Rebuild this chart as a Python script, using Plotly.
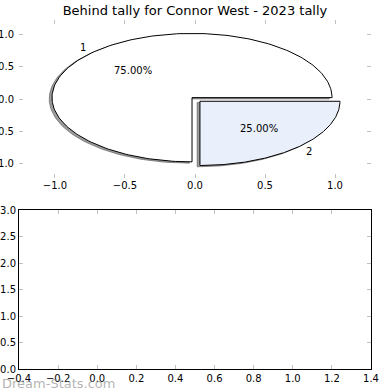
import numpy as np
import plotly.graph_objects as go

# ---- data ----
labels = ["1", "2"]
values = [75, 25]
explode = [0.03, 0.05]
slice_colors = ["#ffffff", "#e9effb"]
title_text = "Behind tally for Connor West - 2023 tally"
top_ticks = [-1.0, -0.5, 0.0, 0.5, 1.0]
bottom_xticks = [-0.4, -0.2, 0.0, 0.2, 0.4, 0.6, 0.8, 1.0, 1.2, 1.4]
bottom_yticks = [0.0, 0.5, 1.0, 1.5, 2.0, 2.5, 3.0]

W = H = 390
def xd(px0, px1):
    return [px0 / W, px1 / W]
def yd(py0, py1):
    return [1 - py1 / H, 1 - py0 / H]

fig = go.Figure()

total = float(sum(values))
wedges = []
theta = 0.0
for lab, v, ex, col in zip(labels, values, explode, slice_colors):
    frac = v / total
    t1, t2 = theta, theta + 360.0 * frac
    mid = np.deg2rad((t1 + t2) / 2)
    cx, cy = ex * np.cos(mid), ex * np.sin(mid)
    ang = np.deg2rad(np.linspace(t1, t2, 200))
    px = np.concatenate([[cx], cx + np.cos(ang), [cx]])
    py = np.concatenate([[cy], cy + np.sin(ang), [cy]])
    wedges.append((lab, frac, cx, cy, mid, px, py, col))
    theta = t2

# shadows first
for lab, frac, cx, cy, mid, px, py, col in wedges:
    fig.add_trace(go.Scatter(x=px - 0.02, y=py - 0.02, mode="lines", fill="toself",
                             fillcolor="rgba(77,77,77,0.55)", line=dict(color="rgba(77,77,77,0.55)", width=1),
                             hoverinfo="skip", showlegend=False, xaxis="x", yaxis="y"))
for lab, frac, cx, cy, mid, px, py, col in wedges:
    fig.add_trace(go.Scatter(x=px, y=py, mode="lines", fill="toself", fillcolor=col,
                             line=dict(color="black", width=1),
                             hoverinfo="skip", showlegend=False, xaxis="x", yaxis="y"))
    fig.add_annotation(x=cx + 1.1 * np.cos(mid), y=cy + 1.1 * np.sin(mid), text=lab,
                       showarrow=False, xref="x", yref="y",
                       font=dict(family="DejaVu Sans", size=10, color="black"))
    fig.add_annotation(x=cx + 0.6 * np.cos(mid), y=cy + 0.6 * np.sin(mid),
                       text="%.2f%%" % (frac * 100), showarrow=False, xref="x", yref="y",
                       font=dict(family="DejaVu Sans", size=10, color="black"))

# invisible trace for bottom axes
fig.add_trace(go.Scatter(x=[None], y=[None], mode="markers", showlegend=False,
                         hoverinfo="skip", xaxis="x2", yaxis="y2"))

tickfont = dict(family="DejaVu Sans", size=10, color="black")
common = dict(ticks="inside", ticklen=4, tickwidth=1, tickcolor="#c0c0c0",
              showgrid=False, zeroline=False, automargin=False, tickfont=tickfont,
              mirror="ticks")

fig.update_layout(
    width=W, height=H, margin=dict(l=0, r=0, t=0, b=0),
    paper_bgcolor="white", plot_bgcolor="white", template="none",
    showlegend=False,
    title=dict(text=title_text, x=0.5, xanchor="center", y=1 - 10 / H, yanchor="middle",
               font=dict(family="DejaVu Sans", size=13, color="black")),
    xaxis=dict(domain=xd(19, 371), range=[-1.257, 1.257], tickvals=top_ticks,
               ticktext=[("%.1f" % t).replace("-", "\u2212") for t in top_ticks],
               showline=False, anchor="y", **common),
    yaxis=dict(domain=yd(20, 178), range=[-1.23, 1.23], tickvals=top_ticks,
               ticktext=[("%.1f" % t).replace("-", "\u2212") for t in top_ticks],
               showline=False, anchor="x", ticklabelstandoff=4, **common),
    xaxis2=dict(domain=xd(19, 371), range=[-0.4, 1.4], tickvals=bottom_xticks,
                ticktext=[("%.1f" % t).replace("-", "\u2212") for t in bottom_xticks],
                showline=True, linecolor="black", linewidth=1, anchor="y2", **common),
    yaxis2=dict(domain=yd(210, 369), range=[0, 3], tickvals=bottom_yticks,
                ticktext=["%.1f" % t for t in bottom_yticks],
                showline=True, linecolor="black", linewidth=1, anchor="x2", **common),
)

fig.add_annotation(text="Dream-Stats.com", xref="paper", yref="paper", x=0, xanchor="left",
                   y=1 - 383 / H, yanchor="middle", showarrow=False,
                   font=dict(family="DejaVu Sans", size=13, color="rgba(128,128,128,0.6)"))

fig.write_html("out.html", config={"displayModeBar": False},
               post_script="document.body.style.margin='0';document.body.style.overflow='hidden';")
